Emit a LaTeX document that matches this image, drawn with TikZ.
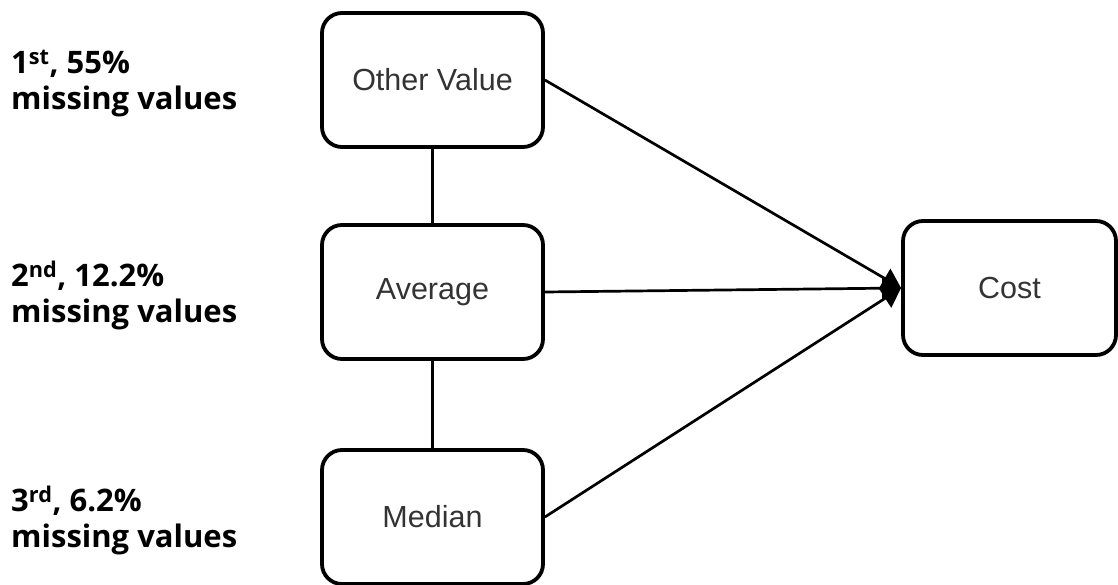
\documentclass[tikz,border=0pt]{standalone}
\usepackage{fontspec}
\setmainfont{Liberation Sans}
\newfontfamily\labelfont{Open Sans}
\usetikzlibrary{arrows.meta}
\tikzset{
  box/.style={draw, line width=3.8pt, rounded corners=20pt, minimum width=221pt,
    minimum height=134pt, inner sep=0pt, text=black!80,
    font=\fontsize{30.5}{36}\selectfont},
  costbox/.style={box, minimum width=213pt},
  link/.style={line width=2.7pt},
  flow/.style={line width=2.7pt, -{Triangle[length=19pt,width=22pt]}},
  note/.style={anchor=north west, align=left, inner sep=0pt,
    font=\labelfont\bfseries\fontsize{31}{36}\selectfont}
}
\begin{document}
\begin{tikzpicture}[x=1pt,y=-1pt]
  \useasboundingbox (0,0) rectangle (1118,585);
  % imputation steps
  \node[box] (other) at (432.5,80) {Other Value};
  \node[box] (avg) at (432.5,292) {Average};
  \node[box] (med) at (432.5,517) {Median};
  \node[costbox] (cost) at (1009.5,288) {Cost};
  % ordering of the steps
  \draw[link] (other.south) -- (avg.north);
  \draw[link] (avg.south) -- (med.north);
  % every step feeds the cost
  \coordinate (tip) at (cost.west);
  \draw[flow] (other.east) -- (tip);
  \draw[flow] (avg.east) -- (tip);
  \draw[flow] (med.east) -- (tip);
  % share of missing values per step
  \node[note] (n1) at (11,50) {1\textsuperscript{st}, 55\%\\missing values};
  \node[note] (n2) at (11,261) {2\textsuperscript{nd}, 12.2\%\\missing values};
  \node[note] (n3) at (11,486) {3\textsuperscript{rd}, 6.2\%\\missing values};
\end{tikzpicture}
\end{document}
